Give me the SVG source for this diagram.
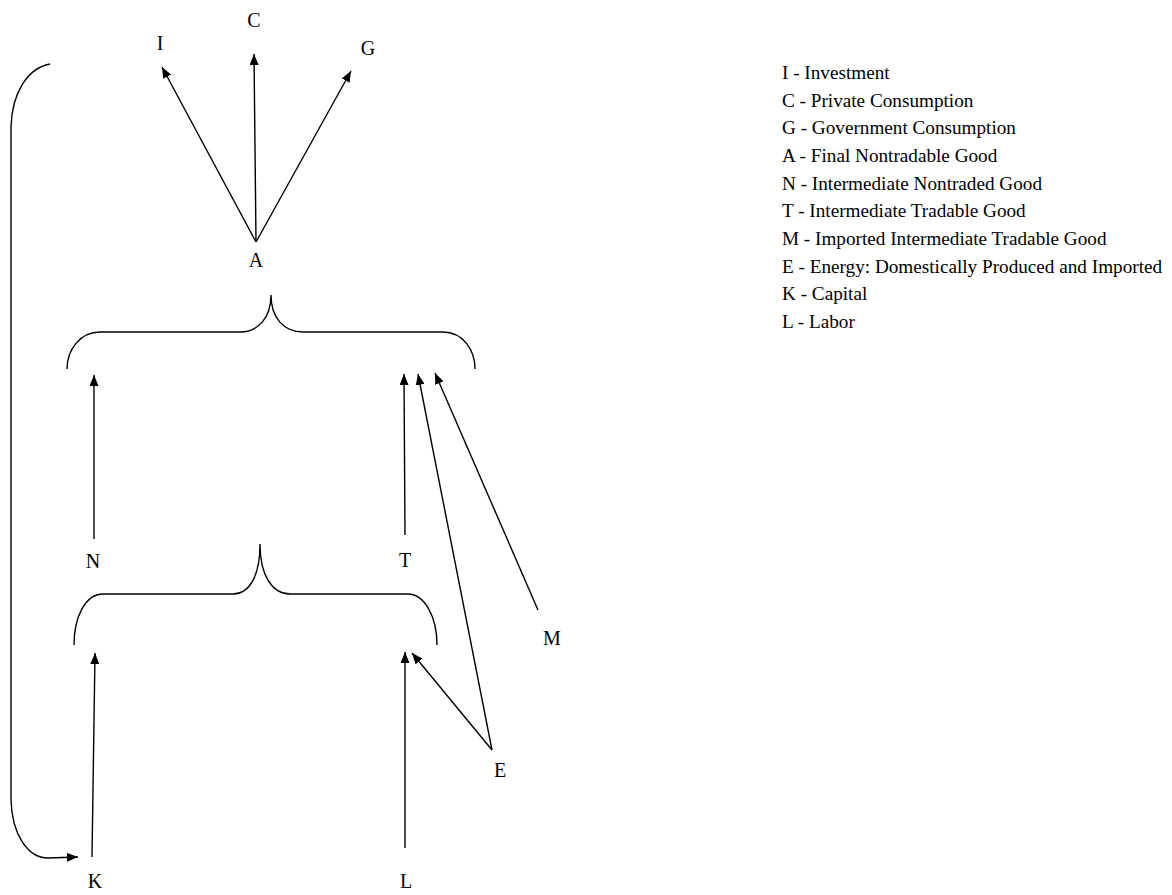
<svg xmlns="http://www.w3.org/2000/svg" width="1172" height="895" viewBox="0 0 1172 895">
<style>
text{font-family:"Liberation Serif","Times New Roman",serif;font-size:19.2px;fill:#000}
.lbl{text-anchor:middle;font-size:20px}
.ln{fill:none;stroke:#000;stroke-width:1.4}
</style>
<defs>
<marker id="ah" markerWidth="11" markerHeight="9" refX="11" refY="4.5" orient="auto" markerUnits="userSpaceOnUse">
<path d="M0,0 L11,4.5 L0,9 Z" fill="#000"/>
</marker>
</defs>
<rect width="1172" height="895" fill="#fff"/>
<g id="connectors">
<path class="ln" marker-end="url(#ah)" d="M256,242 L162,67"/>
<path class="ln" marker-end="url(#ah)" d="M256,242 L254,54"/>
<path class="ln" marker-end="url(#ah)" d="M256,242 L351,71"/>
<path class="ln" marker-end="url(#ah)" d="M94,539 L94,375"/>
<path class="ln" marker-end="url(#ah)" d="M405,535 L404,374"/>
<path class="ln" marker-end="url(#ah)" d="M492,750 L418,374"/>
<path class="ln" marker-end="url(#ah)" d="M538,610 L435,373"/>
<path class="ln" marker-end="url(#ah)" d="M492,750 L412,653"/>
<path class="ln" marker-end="url(#ah)" d="M92,857 L95,653"/>
<path class="ln" marker-end="url(#ah)" d="M405,848 L405,652"/>
<path class="ln" marker-end="url(#ah)" d="M50,64 C28,68 12,92 11,127 L11,800 C12,835 28,858 48,858 L78,857"/>
</g>
<g id="brace-top"><path class="ln" d="M67,369 C67,350 80,332 100,332 L240,332 C258,332 271,318 271,295 C271,318 284,332 303,332 L443,332 C463,332 475,350 475,369"/></g>
<g id="brace-bottom"><path class="ln" d="M74,645 C74,616 86,594 103,594 L233,594 C250,594 260,575 260,544 C260,575 272,594 290,594 L408,594 C424,594 437,616 437,645"/></g>
<g id="node-I"><text class="lbl" x="160" y="50">I</text></g>
<g id="node-C"><text class="lbl" x="254" y="27">C</text></g>
<g id="node-G"><text class="lbl" x="368" y="55">G</text></g>
<g id="node-A"><text class="lbl" x="256" y="267">A</text></g>
<g id="node-N"><text class="lbl" x="93" y="568">N</text></g>
<g id="node-T"><text class="lbl" x="405" y="567">T</text></g>
<g id="node-M"><text class="lbl" x="552" y="645">M</text></g>
<g id="node-E"><text class="lbl" x="500" y="777">E</text></g>
<g id="node-K"><text class="lbl" x="95" y="888">K</text></g>
<g id="node-L"><text class="lbl" x="406" y="888">L</text></g>
<g id="legend">
<text x="782" y="79">I - Investment</text>
<text x="782" y="107">C - Private Consumption</text>
<text x="782" y="134">G - Government Consumption</text>
<text x="782" y="162">A - Final Nontradable Good</text>
<text x="782" y="190">N - Intermediate Nontraded Good</text>
<text x="782" y="217">T - Intermediate Tradable Good</text>
<text x="782" y="245">M - Imported Intermediate Tradable Good</text>
<text x="782" y="273">E - Energy: Domestically Produced and Imported</text>
<text x="782" y="300">K - Capital</text>
<text x="782" y="328">L - Labor</text>
</g>
</svg>
